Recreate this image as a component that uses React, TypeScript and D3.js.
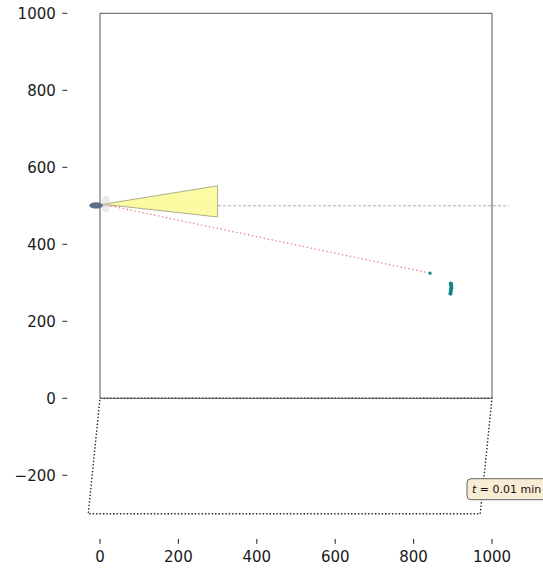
import React from "react";
import * as d3 from "d3";

// Axis ticks
const xTicks = [0, 200, 400, 600, 800, 1000];
const yTicks = [-200, 0, 200, 400, 600, 800, 1000];

// Room outline (x, y) and the projected floor below it
const room = [[0, 0], [1000, 0], [1000, 1000], [0, 1000]];
const floor = [[0, 0], [1000, 0], [970, -300], [-30, -300]];

// Observer and its field of view
const agent = { x: -10, y: 501 };
const halo = { x: 15, y: 505 };
const viewCone = [[8, 504], [300, 552], [300, 471]];
const headingLine = [[8, 500], [1043, 500]];

// Line of sight to the tracked target and the target's recent positions
const sightLine = [[8, 504], [842, 325]];
const targetNow = [842, 325];
const targetTrail = [[894, 272], [895, 279], [896, 286], [896, 293], [895, 298]];

const timeLabel = { x: 1000, y: -240, value: "0.01", unit: "min" };

const W = 543;
const H = 569;

export default function App() {
  const x = d3.scaleLinear().domain([0, 1000]).range([100, 492]);
  const y = d3.scaleLinear().domain([0, 1000]).range([398.3, 13.3]);
  const line = d3.line<number[]>().x((d) => x(d[0])).y((d) => y(d[1]));
  const closed = (pts: number[][]) => line(pts) + "Z";

  const font = "DejaVu Sans, sans-serif";
  const axisLeft = 67.3;
  const axisBottom = 539;

  const tlx = x(timeLabel.x) - 16;
  const tly = y(timeLabel.y) - 1.5;

  return (
    <svg
      width={W}
      height={H}
      style={{ position: "absolute", left: 0, top: 0, background: "#fff" }}
      fontFamily={font}
    >
      {/* y axis ticks */}
      {yTicks.map((t) => (
        <g key={"y" + t}>
          <line x1={axisLeft - 4.9} x2={axisLeft} y1={y(t)} y2={y(t)} stroke="#222" strokeWidth={1} />
          <text x={axisLeft - 11.5} y={y(t)} dy="0.36em" textAnchor="end" fontSize={15} fill="#1a1a1a">
            {t < 0 ? "\u2212" + Math.abs(t) : t}
          </text>
        </g>
      ))}
      {/* x axis ticks */}
      {xTicks.map((t) => (
        <g key={"x" + t}>
          <line x1={x(t)} x2={x(t)} y1={axisBottom} y2={axisBottom + 4.9} stroke="#222" strokeWidth={1} />
          <text x={x(t)} y={axisBottom + 23} textAnchor="middle" fontSize={15} fill="#1a1a1a">
            {t}
          </text>
        </g>
      ))}

      {/* floor projection */}
      <path d={closed(floor)} fill="none" stroke="#222" strokeWidth={1.4} strokeDasharray="1.4,2" />
      {/* room */}
      <path d={closed(room)} fill="none" stroke="#555" strokeWidth={1} />

      {/* heading reference */}
      <path d={line(headingLine) || ""} fill="none" stroke="#999" strokeWidth={0.8} strokeDasharray="3,2" />

      {/* field of view */}
      <path d={closed(viewCone)} fill="#fdf99a" fillOpacity={0.9} stroke="#9a9a7a" strokeWidth={0.8} />

      {/* line of sight */}
      <path d={line(sightLine) || ""} fill="none" stroke="#f08a8a" strokeWidth={1.4} strokeDasharray="1.4,2.6" />

      {/* observer */}
      <ellipse cx={x(halo.x)} cy={y(halo.y)} rx={4.5} ry={8.5} fill="#d0d0d0" fillOpacity={0.45} />
      <ellipse cx={x(agent.x)} cy={y(agent.y)} rx={6.8} ry={3.2} fill="#5b6f86" />

      {/* target */}
      <circle cx={x(targetNow[0])} cy={y(targetNow[1])} r={1.6} fill="#0f8a8a" />
      {targetTrail.map((p, i) => (
        <circle key={i} cx={x(p[0])} cy={y(p[1])} r={2.1} fill="#0f8585" />
      ))}

      {/* time stamp */}
      <g>
        <rect x={tlx - 9} y={tly - 10.5} width={90} height={21} rx={4} fill="#f8ecd4" stroke="#555" strokeWidth={0.9} />
        <text x={tlx - 4} y={tly} dy="0.36em" fontSize={11} fill="#111">
          <tspan fontStyle="italic">t</tspan>
          <tspan> = {timeLabel.value} {timeLabel.unit}</tspan>
        </text>
      </g>
    </svg>
  );
}
